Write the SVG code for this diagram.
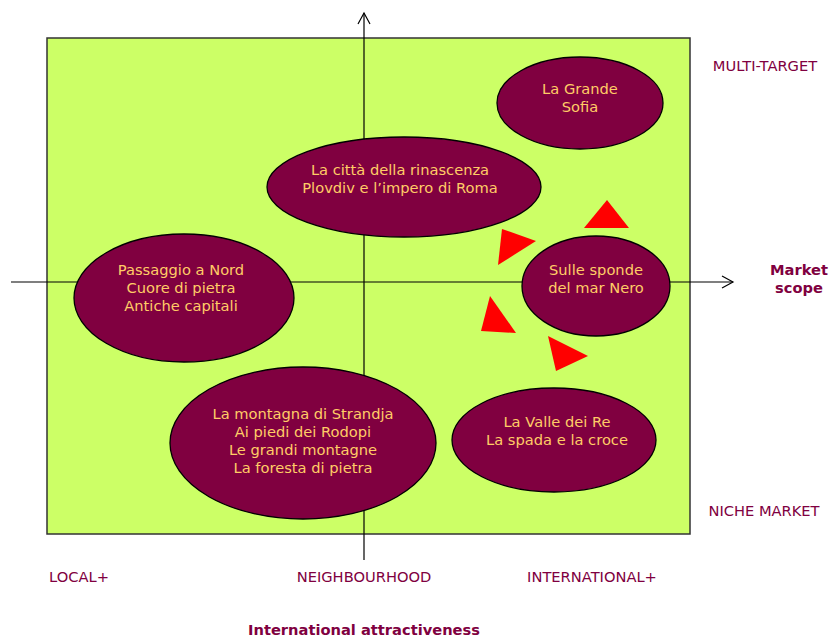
<svg xmlns="http://www.w3.org/2000/svg" width="830" height="637" viewBox="0 0 830 637">
<defs>
<style>
.node ellipse{fill:#800040;stroke:#000;stroke-width:1.3}
.node text{fill:#FFCC66;font-family:"DejaVu Sans",Verdana,sans-serif;font-size:14.67px;text-anchor:middle}
.lbl{fill:#800040;font-family:"DejaVu Sans",Verdana,sans-serif;font-size:14.67px;text-anchor:middle}
.bold{font-weight:bold}
.axis{stroke:#000;stroke-width:1.2;fill:none}
.tri{fill:#FF0000}
</style>
<marker id="arr" markerWidth="14" markerHeight="14" refX="12" refY="7" orient="auto" markerUnits="userSpaceOnUse">
<path d="M1,1 L12,7 L1,13" fill="none" stroke="#000" stroke-width="1.2"/>
</marker>
</defs>
<rect x="47" y="38" width="643" height="496" fill="#CCFF66" stroke="#333" stroke-width="1.5"/>
<g id="connectors">
<line class="axis" x1="364" y1="560" x2="364" y2="13" marker-end="url(#arr)"/>
<line class="axis" x1="11" y1="282" x2="733" y2="282" marker-end="url(#arr)"/>
</g>
<g id="sofia" class="node">
<ellipse cx="580" cy="103" rx="83" ry="46"/>
<text x="580" y="94">La Grande</text>
<text x="580" y="112">Sofia</text>
</g>
<g id="plovdiv" class="node">
<ellipse cx="404" cy="187" rx="137" ry="50"/>
<text x="400" y="175">La città della rinascenza</text>
<text x="400" y="193">Plovdiv e l’impero di Roma</text>
</g>
<g id="passaggio" class="node">
<ellipse cx="184" cy="298" rx="110" ry="64"/>
<text x="181" y="275">Passaggio a Nord</text>
<text x="181" y="293">Cuore di pietra</text>
<text x="181" y="311">Antiche capitali</text>
</g>
<g id="sulle" class="node">
<ellipse cx="596" cy="286" rx="74" ry="50"/>
<text x="596" y="275">Sulle sponde</text>
<text x="596" y="293">del mar Nero</text>
</g>
<g id="montagna" class="node">
<ellipse cx="303" cy="443" rx="133" ry="76"/>
<text x="303" y="419">La montagna di Strandja</text>
<text x="303" y="437">Ai piedi dei Rodopi</text>
<text x="303" y="455">Le grandi montagne</text>
<text x="303" y="473">La foresta di pietra</text>
</g>
<g id="valle" class="node">
<ellipse cx="554" cy="440" rx="102" ry="52"/>
<text x="557" y="427">La Valle dei Re</text>
<text x="557" y="445">La spada e la croce</text>
</g>
<g id="triangles">
<polygon class="tri" points="584,228 607,200 629,228"/>
<polygon class="tri" points="502,229 536,241 498,265"/>
<polygon class="tri" points="490,296 516,333 481,331"/>
<polygon class="tri" points="548,336 588,356 556,371"/>
</g>
<g id="labels">
<text class="lbl" x="765" y="71">MULTI-TARGET</text>
<text class="lbl" x="764" y="516">NICHE MARKET</text>
<text class="lbl" x="79" y="582">LOCAL+</text>
<text class="lbl" x="364" y="582">NEIGHBOURHOOD</text>
<text class="lbl" x="592" y="582">INTERNATIONAL+</text>
<text class="lbl bold" x="799" y="275">Market</text>
<text class="lbl bold" x="799" y="293">scope</text>
<text class="lbl bold" x="364" y="635">International attractiveness</text>
</g>
</svg>
